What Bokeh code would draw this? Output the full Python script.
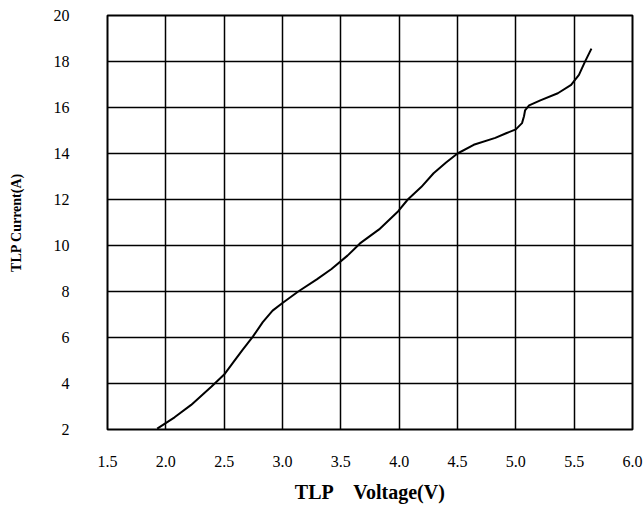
from bokeh.plotting import figure
from bokeh.models import Range1d, FixedTicker, NumeralTickFormatter
from bokeh.embed import file_html
from bokeh.resources import INLINE

# tick positions
x_ticks = [1.5, 2.0, 2.5, 3.0, 3.5, 4.0, 4.5, 5.0, 5.5, 6.0]
y_ticks = [2, 4, 6, 8, 10, 12, 14, 16, 18, 20]

# TLP I-V curve
voltage = [1.926, 2.075, 2.217, 2.392, 2.500, 2.576, 2.661, 2.746, 2.831, 2.915,
           3.000, 3.135, 3.294, 3.420, 3.557, 3.664, 3.828, 3.992, 4.074, 4.189,
           4.295, 4.402, 4.500, 4.639, 4.824, 4.917, 5.000, 5.053, 5.070, 5.079,
           5.114, 5.210, 5.360, 5.474, 5.541, 5.590, 5.648]
current = [2.04, 2.53, 3.07, 3.87, 4.39, 4.91, 5.48, 6.04, 6.67, 7.17,
           7.50, 8.00, 8.53, 8.98, 9.56, 10.09, 10.70, 11.49, 12.00, 12.54,
           13.14, 13.61, 14.00, 14.38, 14.68, 14.88, 15.05, 15.32, 15.62, 15.87,
           16.09, 16.31, 16.62, 16.98, 17.42, 17.96, 18.56]

x_title = "TLP\u00a0\u00a0\u00a0 Voltage(V)"
y_title = "TLP Current(A)"

FONT = "Liberation Serif"

p = figure(width=643, height=510,
           x_range=Range1d(1.5, 6.0), y_range=Range1d(2, 20),
           output_backend="svg", toolbar_location=None,
           min_border_left=107, min_border_right=11,
           min_border_top=15, min_border_bottom=81)

p.background_fill_color = "white"
p.border_fill_color = "white"
p.outline_line_color = "black"
p.outline_line_width = 2

for ax in (p.xaxis, p.yaxis):
    ax.axis_line_color = None
    ax.major_tick_line_color = None
    ax.minor_tick_line_color = None
    ax.major_tick_out = 0
    ax.major_tick_in = 0
    ax.major_label_text_font = FONT
    ax.major_label_text_font_size = "16px"
    ax.major_label_text_color = "black"
    ax.axis_label_text_font = FONT
    ax.axis_label_text_font_style = "bold"
    ax.axis_label_text_color = "black"

p.xaxis.ticker = FixedTicker(ticks=x_ticks)
p.yaxis.ticker = FixedTicker(ticks=y_ticks)
p.xaxis.formatter = NumeralTickFormatter(format="0.0")
p.yaxis.formatter = NumeralTickFormatter(format="0")
p.xaxis.major_label_standoff = 26
p.yaxis.major_label_standoff = 38

p.xaxis.axis_label = x_title
p.xaxis.axis_label_text_font_size = "20px"
p.xaxis.axis_label_standoff = 11

p.yaxis.axis_label = y_title
p.yaxis.axis_label_text_font_size = "14px"
p.yaxis.axis_label_standoff = 27

p.xgrid.grid_line_color = "black"
p.ygrid.grid_line_color = "black"
p.xgrid.grid_line_width = 1.5
p.ygrid.grid_line_width = 1.5
p.xgrid.grid_line_alpha = 1.0
p.ygrid.grid_line_alpha = 1.0

p.line(voltage, current, line_color="black", line_width=2, line_join="round")

open("out.html", "w").write(file_html(p, INLINE))
